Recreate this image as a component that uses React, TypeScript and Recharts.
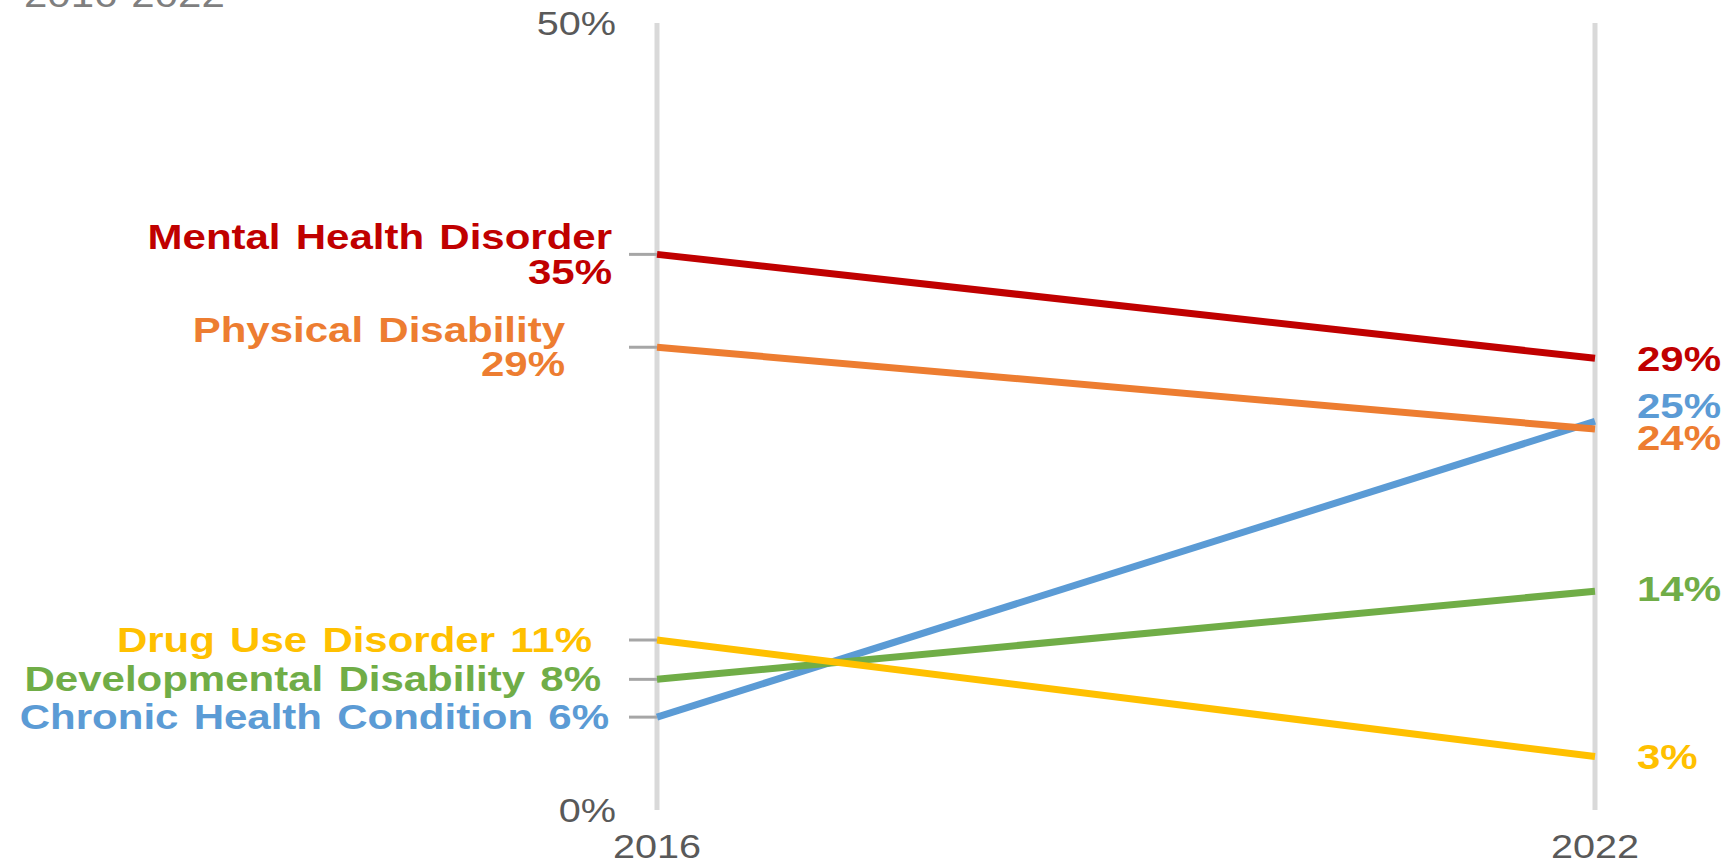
import { LabelList, Line, LineChart, ReferenceLine, XAxis, YAxis } from "recharts";

const years = [2016, 2022];
const mentalHealth = [35.3, 28.7];
const physicalDisability = [29.4, 24.2];
const chronicHealth = [5.9, 24.7];
const developmentalDisability = [8.3, 13.9];
const drugUse = [10.8, 3.4];
const yLabelTicks = [0, 50];
const subtitle = "2016-2022";

const FONT = "'Liberation Sans', Arial, sans-serif";
const STRETCH = 1.2; // reference text is drawn wide

type Series = {
  key: string;
  name: string;
  values: number[];
  color: string;
  twoLine: boolean;
  leftGap: number;
  leftDy: number;
  rightDy: number;
};

const series: Series[] = [
  { key: "chronic", name: "Chronic Health Condition", values: chronicHealth, color: "#5b9bd5", twoLine: false, leftGap: 48, leftDy: 0, rightDy: -15 },
  { key: "developmental", name: "Developmental Disability", values: developmentalDisability, color: "#70ad47", twoLine: false, leftGap: 56, leftDy: -1, rightDy: -2 },
  { key: "drug", name: "Drug Use Disorder", values: drugUse, color: "#ffc000", twoLine: false, leftGap: 65, leftDy: 0, rightDy: 0 },
  { key: "physical", name: "Physical Disability", values: physicalDisability, color: "#ed7d31", twoLine: true, leftGap: 92, leftDy: 0, rightDy: 9 },
  { key: "mental", name: "Mental Health Disorder", values: mentalHealth, color: "#c00000", twoLine: true, leftGap: 45, leftDy: 0, rightDy: 0 },
];

const data = years.map((year, i) => {
  const row: Record<string, number> = { year };
  series.forEach((s) => (row[s.key] = s.values[i]));
  return row;
});

const markTicks = series.map((s) => s.values[0]);
const yTicks = [...yLabelTicks, ...markTicks].sort((a, b) => a - b);

function renderEndLabel(s: Series) {
  return (props: any) => {
    const { x, y, value, index } = props;
    const pct = `${Math.round(Number(value))}%`;
    const textProps = {
      fill: s.color,
      fontFamily: FONT,
      fontWeight: 700,
      fontSize: 35,
      wordSpacing: 3,
      dy: "0.35em",
    };
    if (index === 0) {
      return (
        <g transform={`translate(${x - s.leftGap} ${y + s.leftDy}) scale(${STRETCH} 1)`}>
          {s.twoLine ? (
            <>
              <text {...textProps} x={0} y={-18} textAnchor="end">
                {s.name}
              </text>
              <text {...textProps} x={0} y={17} textAnchor="end">
                {pct}
              </text>
            </>
          ) : (
            <text {...textProps} x={0} y={0} textAnchor="end">
              {`${s.name} ${pct}`}
            </text>
          )}
        </g>
      );
    }
    return (
      <g transform={`translate(${x + 42} ${y + s.rightDy}) scale(${STRETCH} 1)`}>
        <text {...textProps} x={0} y={0} textAnchor="start">
          {pct}
        </text>
      </g>
    );
  };
}

function YTick({ x, y, payload }: any) {
  if (yLabelTicks.includes(payload.value)) {
    return (
      <g transform={`translate(${x - 41} ${y}) scale(${STRETCH} 1)`}>
        <text x={0} y={0} dy="0.35em" textAnchor="end" fill="#595959" fontFamily={FONT} fontSize={33}>
          {`${payload.value}%`}
        </text>
      </g>
    );
  }
  return <line x1={x - 28} x2={x} y1={y} y2={y} stroke="#a6a6a6" strokeWidth={3} />;
}

function XTick({ x, y, payload }: any) {
  return (
    <g transform={`translate(${x} ${y + 36}) scale(${STRETCH} 1)`}>
      <text x={0} y={0} dy="0.35em" textAnchor="middle" fill="#595959" fontFamily={FONT} fontSize={33}>
        {payload.value}
      </text>
    </g>
  );
}

export default function App() {
  return (
    <div style={{ position: "absolute", left: 0, top: 0, width: 1734, height: 858, background: "#fff" }}>
      <LineChart width={1734} height={858} data={data} margin={{ top: 23, right: 139, bottom: 0, left: 0 }}>
        <XAxis
          dataKey="year"
          type="number"
          domain={[2016, 2022]}
          ticks={years}
          tickLine={false}
          axisLine={false}
          tickSize={0}
          tickMargin={0}
          height={48}
          tick={(p: any) => <XTick {...p} />}
        />
        <YAxis
          type="number"
          domain={[0, 50]}
          ticks={yTicks}
          interval={0}
          tickLine={false}
          axisLine={false}
          tickSize={0}
          tickMargin={0}
          width={657}
          tick={(p: any) => <YTick {...p} />}
        />
        {years.map((yr) => (
          <ReferenceLine key={yr} x={yr} stroke="#d9d9d9" strokeWidth={5} />
        ))}
        {series.map((s) => (
          <Line
            key={s.key}
            dataKey={s.key}
            name={s.name}
            type="linear"
            stroke={s.color}
            strokeWidth={7}
            dot={false}
            activeDot={false}
            isAnimationActive={false}
          >
            <LabelList dataKey={s.key} content={renderEndLabel(s)} />
          </Line>
        ))}
      </LineChart>
      <svg width={400} height={30} style={{ position: "absolute", left: 0, top: 0 }}>
        <g transform={`translate(24 7) scale(${STRETCH} 1)`}>
          <text x={0} y={0} fill="#7f7f7f" fontFamily={FONT} fontSize={35}>
            {subtitle}
          </text>
        </g>
      </svg>
    </div>
  );
}
